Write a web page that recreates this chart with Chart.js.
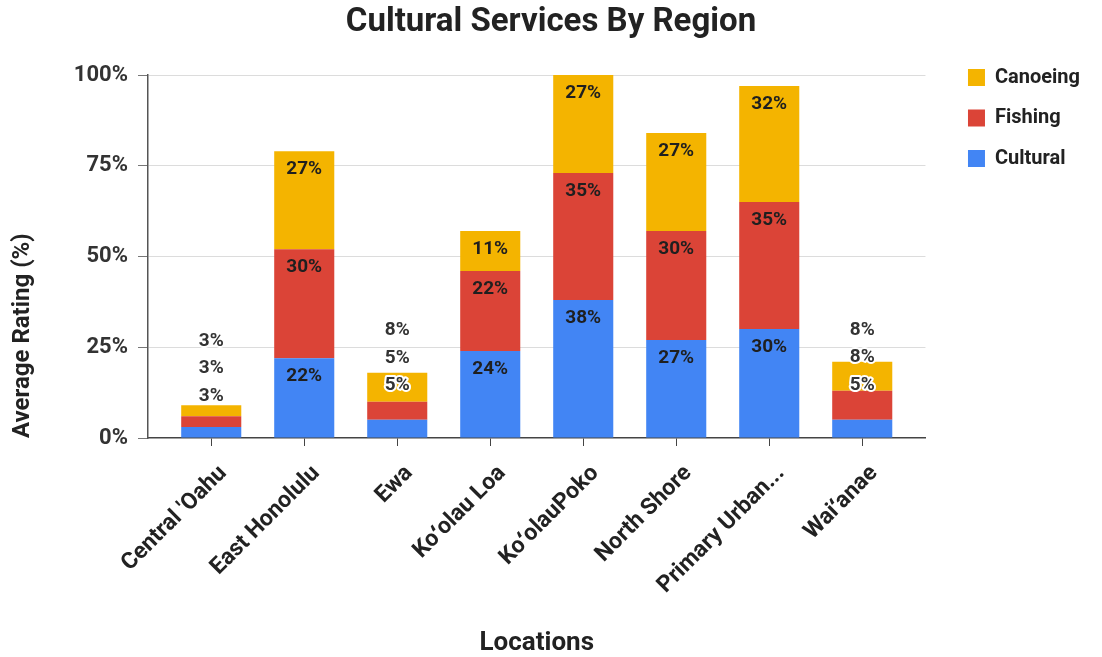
<!DOCTYPE html>
<html>
<head>
<meta charset="utf-8">
<title>Cultural Services By Region</title>
<script src="https://cdn.jsdelivr.net/npm/chart.js@4.4.1/dist/chart.umd.min.js"></script>
<style>
  html, body { margin: 0; padding: 0; background: #fff; }
  #wrap { width: 1102px; height: 657px; position: relative; }
</style>
</head>
<body>
<div id="wrap"><canvas id="mycanvas"></canvas></div>
<script>
var locations = ["Central 'Oahu", "East Honolulu", "Ewa", "Ko\u02bbolau Loa", "Ko\u02bbolauPoko", "North Shore", "Primary Urban...", "Wai\u02bbanae"];
var cultural = [3, 22, 5, 24, 38, 27, 30, 5];
var fishing  = [3, 30, 5, 22, 35, 30, 35, 8];
var canoeing = [3, 27, 8, 11, 27, 27, 32, 8];
var yTicks = [0, 25, 50, 75, 100];

var FONT = "Roboto, 'Noto Sans', sans-serif";

function points(values) {
    return values.map(function(v, i) { return {x: i, y: v}; });
}

// percent labels: top-inside each segment, or a stacked column over short bars
var segmentLabels = {
    id: 'segmentLabels',
    afterDatasetsDraw: function(chart) {
        var ctx = chart.ctx;
        var zeroY = chart.scales.y.getPixelForValue(0);
        ctx.save();
        ctx.font = "bold 19px " + FONT;
        ctx.textAlign = 'center';
        ctx.textBaseline = 'middle';
        ctx.lineJoin = 'round';
        for (var i = 0; i < locations.length; i++) {
            var bars = [0, 1, 2].map(function(d) { return chart.getDatasetMeta(d).data[i]; });
            var values = [0, 1, 2].map(function(d) { return chart.data.datasets[d].data[i].y; });
            var fits = bars.every(function(b) { return Math.abs(b.base - b.y) >= 24; });
            var barTop = bars[2].y;
            var low = Math.min(zeroY - 42, Math.max(barTop + 13, zeroY - 53));
            for (var d = 0; d < 3; d++) {
                var txt = values[d] + '%';
                var x = bars[d].x;
                if (fits) {
                    ctx.fillStyle = '#1f1f1f';
                    ctx.fillText(txt, x, bars[d].y + 18);
                } else {
                    var y = low - d * 27.5;
                    ctx.strokeStyle = '#fff';
                    ctx.lineWidth = 4;
                    ctx.strokeText(txt, x, y);
                    ctx.fillStyle = '#333';
                    ctx.fillText(txt, x, y);
                }
            }
        }
        ctx.restore();
    }
};

var chartdata = {
    datasets: [
        { label: 'Cultural', data: points(cultural), backgroundColor: '#4285F4' },
        { label: 'Fishing',  data: points(fishing),  backgroundColor: '#DB4437' },
        { label: 'Canoeing', data: points(canoeing), backgroundColor: '#F4B400' }
    ]
};

var ctx = document.getElementById('mycanvas');

var BarGraph = new Chart(ctx, {
    type: 'bar',
    data: chartdata,
    plugins: [segmentLabels],
    options: {
        responsive: true,
        maintainAspectRatio: false,
        animation: false,
        layout: { padding: { top: 0, right: 12, bottom: 0, left: 12 } },
        datasets: { bar: { categoryPercentage: 1, barPercentage: 0.646 } },
        plugins: {
            title: {
                display: true,
                text: 'Cultural Services By Region',
                color: '#222',
                font: { family: FONT, size: 33, weight: 'bold', lineHeight: 1.2 },
                padding: { top: 3, bottom: 32.4 }
            },
            legend: {
                position: 'right',
                align: 'start',
                reverse: true,
                title: { display: true, text: '', font: { size: 10, lineHeight: 1 }, padding: { top: 37, bottom: 0 } },
                labels: {
                    color: '#222',
                    boxWidth: 17,
                    boxHeight: 17,
                    padding: 20.5,
                    font: { family: FONT, size: 20, weight: 'bold' }
                }
            },
            tooltip: { enabled: false }
        },
        scales: {
            x: {
                type: 'linear',
                stacked: true,
                offset: false,
                min: -0.68,
                max: 7.68,
                afterBuildTicks: function(s) {
                    s.ticks = locations.map(function(_, i) { return {value: i}; });
                },
                afterFit: function(s) { s.height = 219; },
                grid: { offset: false, drawOnChartArea: false, drawTicks: true, tickLength: 8, color: '#444' },
                border: { display: true, color: '#444', width: 1.5 },
                ticks: {
                    autoSkip: false,
                    minRotation: 45,
                    maxRotation: 45,
                    padding: 14,
                    labelOffset: 12,
                    color: '#222',
                    font: { family: FONT, size: 23, weight: 'bold' },
                    callback: function(v) { return locations[v]; }
                },
                title: {
                    display: true,
                    text: 'Locations',
                    color: '#222',
                    font: { family: FONT, size: 26, weight: 'bold', lineHeight: 1.05 },
                    padding: { top: 0, bottom: 0 }
                }
            },
            y: {
                stacked: true,
                min: 0,
                max: 100,
                afterBuildTicks: function(s) {
                    s.ticks = yTicks.map(function(v) { return {value: v}; });
                },
                afterFit: function(s) { s.width = 136; },
                grid: {
                    color: function(c) { return c.tick && c.tick.value === 0 ? 'rgba(0,0,0,0)' : '#dcdcdc'; },
                    tickColor: '#777',
                    tickLength: 10
                },
                border: { display: true, color: '#555', width: 1.5 },
                ticks: {
                    padding: 10,
                    color: '#333',
                    font: { family: FONT, size: 22, weight: 'bold' },
                    callback: function(v) { return v + '%'; }
                },
                title: {
                    display: true,
                    text: 'Average Rating (%)',
                    align: 'start',
                    color: '#222',
                    font: { family: FONT, size: 24, weight: 'bold', lineHeight: 1.2 },
                    padding: { top: -3, bottom: 4 }
                }
            },
            y2: {
                position: 'right',
                display: true,
                grid: { display: false },
                border: { display: false },
                ticks: { display: false },
                afterFit: function(s) { s.width = 22; }
            }
        }
    }
});
</script>
</body>
</html>
